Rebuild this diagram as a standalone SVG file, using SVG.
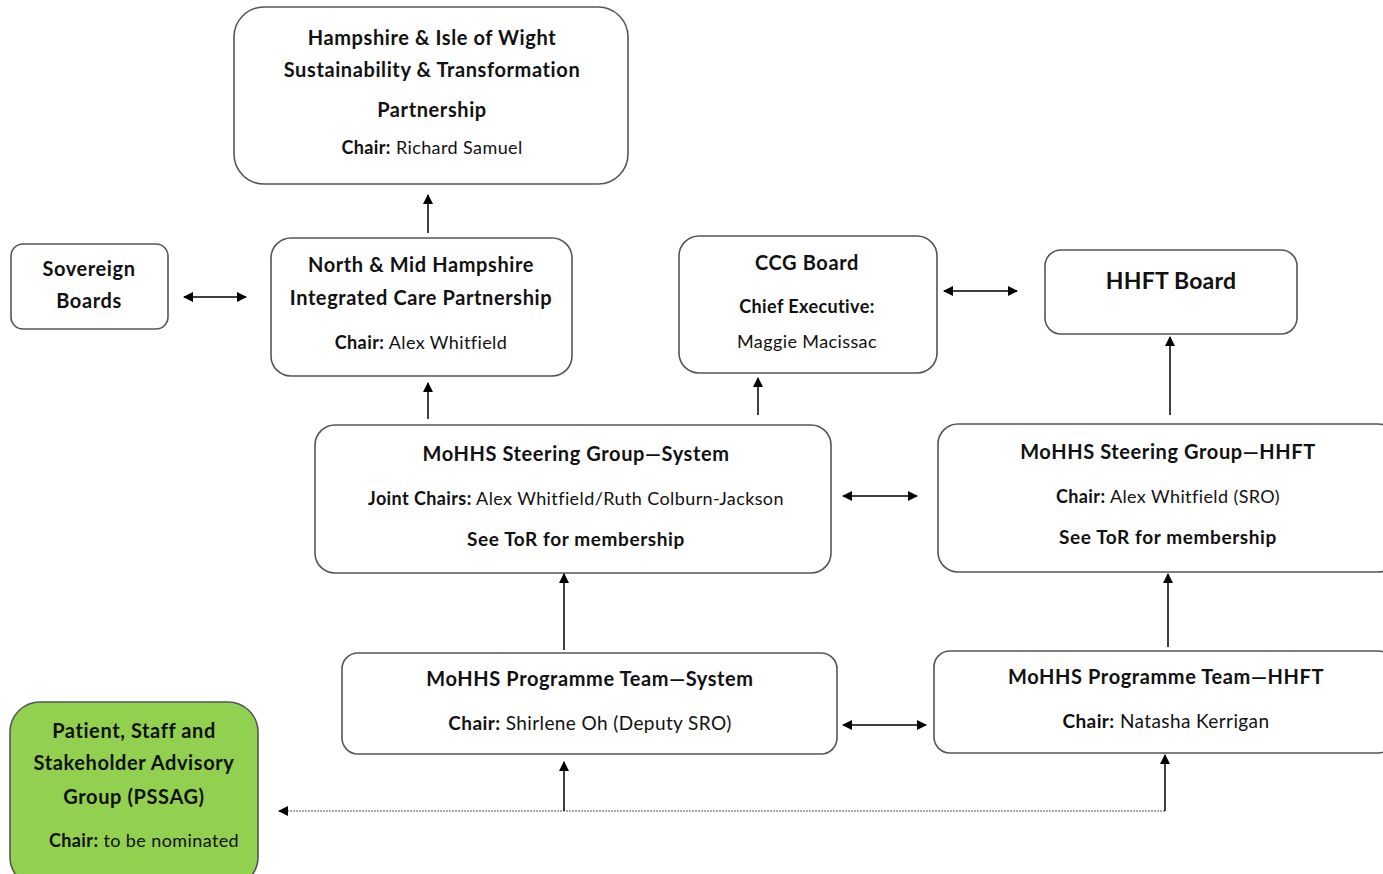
<svg xmlns="http://www.w3.org/2000/svg" width="1383" height="874" viewBox="0 0 1383 874">
<style>
.box{fill:#fff;stroke:#555;stroke-width:1.6}
.green{fill:#92d050;stroke:#555;stroke-width:1.6}
text{font-family:Lato,"Open Sans","Liberation Sans",sans-serif;fill:#111;text-anchor:middle}
.b{font-weight:bold;font-size:20px;letter-spacing:0.6px}
.n{font-size:18px;letter-spacing:0.4px}
.big{font-weight:bold;font-size:23px;letter-spacing:0.2px}
.c{stroke:#000;stroke-width:1.5;fill:none}
.d{stroke:#555;stroke-width:1.2;fill:none;stroke-dasharray:2 1}
</style>
<defs>
<marker id="ah" viewBox="0 0 10 10" refX="9" refY="5" markerWidth="10" markerHeight="10" markerUnits="userSpaceOnUse" orient="auto-start-reverse">
<path d="M0,0 L10,5 L0,10 z" fill="#000"/>
</marker>
</defs>
<g id="hiow"><rect class="box" x="234" y="7" width="394" height="177" rx="30"/>
<text class="b" x="432" y="45">Hampshire &amp; Isle of Wight</text>
<text class="b" x="432" y="77">Sustainability &amp; Transformation</text>
<text class="b" x="432" y="117">Partnership</text>
<text class="n" x="432" y="154"><tspan font-weight="bold">Chair:</tspan>  Richard Samuel</text></g>
<g id="sovereign"><rect class="box" x="11" y="244" width="157" height="85" rx="12"/>
<text class="b" x="89" y="276">Sovereign</text>
<text class="b" x="89" y="308">Boards</text></g>
<g id="nmh"><rect class="box" x="271" y="238" width="301" height="138" rx="20"/>
<text class="b" x="421" y="272">North &amp; Mid Hampshire</text>
<text class="b" x="421" y="305">Integrated Care Partnership</text>
<text class="n" x="421" y="349"><tspan font-weight="bold">Chair:</tspan> Alex Whitfield</text></g>
<g id="ccg"><rect class="box" x="679" y="236" width="258" height="137" rx="20"/>
<text class="b" x="807" y="270">CCG Board</text>
<text class="n" x="807" y="313" font-weight="bold">Chief Executive:</text>
<text class="n" x="807" y="348">Maggie Macissac</text></g>
<g id="hhftboard"><rect class="box" x="1045" y="250" width="252" height="84" rx="16"/>
<text class="big" x="1171" y="289">HHFT Board</text></g>
<g id="sgsystem"><rect class="box" x="315" y="425" width="516" height="148" rx="20"/>
<text class="b" x="576" y="461">MoHHS Steering Group—System</text>
<text class="n" x="576" y="505"><tspan font-weight="bold">Joint Chairs:</tspan>  Alex Whitfield/Ruth Colburn-Jackson</text>
<text class="b" x="576" y="546" style="font-size:19px">See ToR for membership</text></g>
<g id="sghhft"><rect class="box" x="938" y="424" width="460" height="148" rx="20"/>
<text class="b" x="1168" y="459">MoHHS Steering Group—HHFT</text>
<text class="n" x="1168" y="503"><tspan font-weight="bold">Chair:</tspan>  Alex Whitfield (SRO)</text>
<text class="b" x="1168" y="544" style="font-size:19px">See ToR for membership</text></g>
<g id="ptsystem"><rect class="box" x="342" y="653" width="495" height="101" rx="16"/>
<text class="b" x="590" y="686">MoHHS Programme Team—System</text>
<text class="n" x="590" y="730" style="font-size:19px"><tspan font-weight="bold">Chair:</tspan>  Shirlene Oh (Deputy SRO)</text></g>
<g id="pthhft"><rect class="box" x="934" y="651" width="460" height="102" rx="16"/>
<text class="b" x="1166" y="684">MoHHS Programme Team—HHFT</text>
<text class="n" x="1166" y="728" style="font-size:19px"><tspan font-weight="bold">Chair:</tspan>  Natasha Kerrigan</text></g>
<g id="pssag"><rect class="green" x="10" y="702" width="248" height="185" rx="30"/>
<text class="b" x="134" y="738">Patient, Staff and</text>
<text class="b" x="134" y="770">Stakeholder Advisory</text>
<text class="b" x="134" y="804">Group (PSSAG)</text>
<text class="n" x="144" y="847"><tspan font-weight="bold">Chair:</tspan>  to be nominated</text></g>
<g id="connectors">
<line class="c" x1="428" y1="233" x2="428" y2="195" marker-end="url(#ah)"/>
<line class="c" x1="184" y1="297" x2="246" y2="297" marker-start="url(#ah)" marker-end="url(#ah)"/>
<line class="c" x1="428" y1="419" x2="428" y2="383" marker-end="url(#ah)"/>
<line class="c" x1="758" y1="415" x2="758" y2="378" marker-end="url(#ah)"/>
<line class="c" x1="944" y1="291" x2="1017" y2="291" marker-start="url(#ah)" marker-end="url(#ah)"/>
<line class="c" x1="1170" y1="415" x2="1170" y2="337" marker-end="url(#ah)"/>
<line class="c" x1="843" y1="496" x2="917" y2="496" marker-start="url(#ah)" marker-end="url(#ah)"/>
<line class="c" x1="564" y1="650" x2="564" y2="574" marker-end="url(#ah)"/>
<line class="c" x1="1168" y1="647" x2="1168" y2="574" marker-end="url(#ah)"/>
<line class="c" x1="843" y1="725" x2="926" y2="725" marker-start="url(#ah)" marker-end="url(#ah)"/>
<polyline class="d" points="1165,811 279,811" marker-end="url(#ah)"/>
<line class="c" x1="1165" y1="811" x2="1165" y2="755" stroke-width="1.2" marker-end="url(#ah)"/>
<line class="c" x1="564" y1="811" x2="564" y2="762" stroke-width="1.2" marker-end="url(#ah)"/>
</g>
</svg>
